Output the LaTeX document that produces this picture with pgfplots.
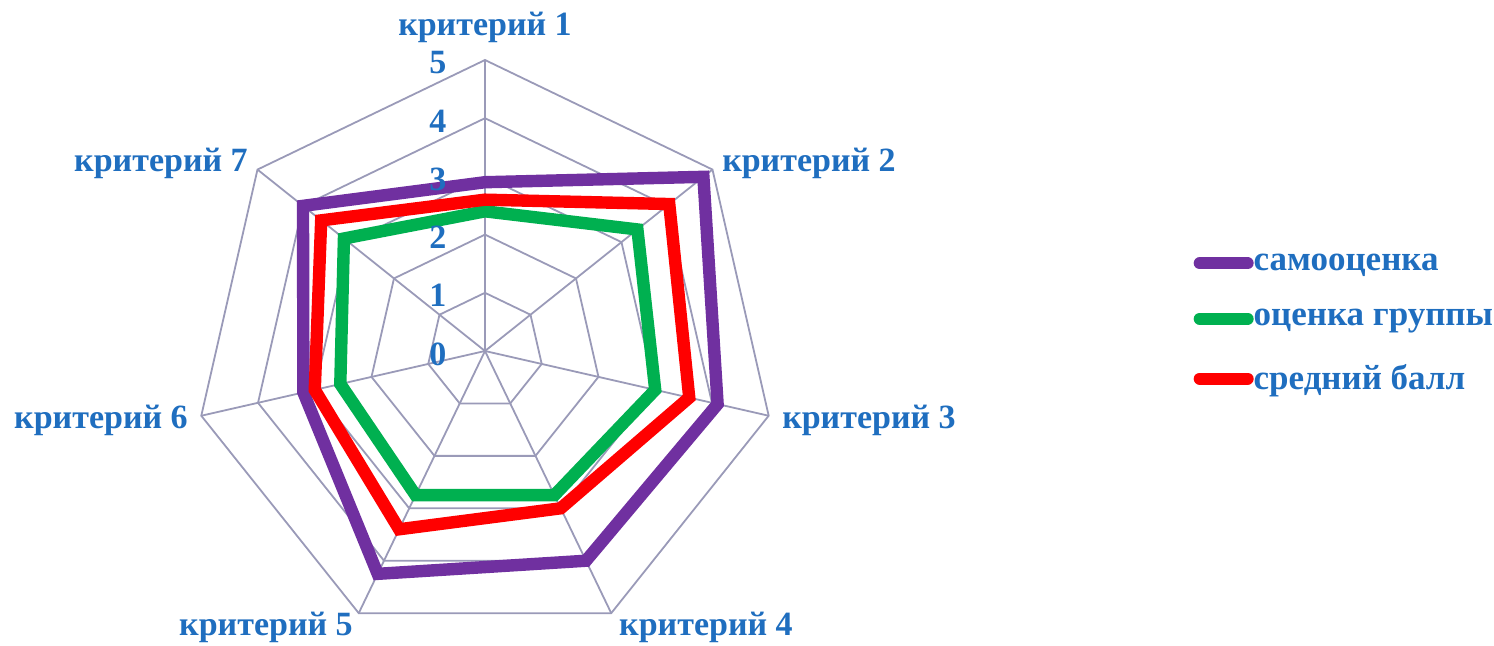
\documentclass[border=0pt]{standalone}
\usepackage{fontspec}
\setmainfont{Liberation Serif}
\usepackage{pgfplots}
\pgfplotsset{compat=1.18}
\definecolor{txtblue}{HTML}{1F6EBF}
\definecolor{gridc}{HTML}{9A9AB8}
\definecolor{cpurple}{HTML}{7030A0}
\definecolor{cgreen}{HTML}{00B050}
\definecolor{cred}{HTML}{FF0000}
\tikzset{lab/.style={font=\bfseries\fontsize{17}{20}\selectfont, text=txtblue, inner sep=0pt}}
\begin{document}
\begin{tikzpicture}
\begin{axis}[
  x=29.1pt, y=29.1pt,
  xmin=-8.333, xmax=17.337, ymin=-5.052, ymax=6.031,
  hide axis, clip=false,
  legend style={at={(axis cs:12.17,0.48)}, anchor=west, draw=none, fill=none,
    font=\bfseries\fontsize{17.5}{20}\selectfont, text=txtblue, row sep=18pt, inner sep=0pt,
    nodes={inner sep=0pt},
    /tikz/every even column/.append style={column sep=0pt}},
  legend cell align=left,
  legend image code/.code={\draw[#1, line width=6pt, line cap=round] (0pt,0pt) -- (24pt,0pt);},
]
% grid rings
\pgfplotsinvokeforeach{1,2,3,4,5}{
  \addplot[gridc, line width=0.9pt, data cs=polar, forget plot, line join=miter]
    coordinates {(90,#1) (38.5714,#1) (-12.8571,#1) (-64.2857,#1) (-115.7143,#1) (-167.1429,#1) (141.4286,#1)} -- cycle;
}
% spokes
\pgfplotsinvokeforeach{90,38.5714,-12.8571,-64.2857,-115.7143,-167.1429,141.4286}{
  \addplot[gridc, line width=0.9pt, data cs=polar, forget plot]
    coordinates {(#1,0) (#1,5)};
}
% data
\addplot[cpurple, line width=6.2pt, line join=miter, data cs=polar]
  coordinates {(90,2.9) (38.5714,4.8) (-12.8571,4.1) (-64.2857,4.0) (-115.7143,4.25) (-167.1429,3.2) (141.4286,4.0)} -- cycle;
\addlegendentry{самооценка}
\addplot[cgreen, line width=6.2pt, line join=miter, data cs=polar]
  coordinates {(90,2.4) (38.5714,3.35) (-12.8571,3.0) (-64.2857,2.75) (-115.7143,2.75) (-167.1429,2.55) (141.4286,3.1)} -- cycle;
\addlegendentry{оценка группы}
\addplot[cred, line width=6.2pt, line join=miter, data cs=polar]
  coordinates {(90,2.6) (38.5714,4.05) (-12.8571,3.6) (-64.2857,3.0) (-115.7143,3.4) (-167.1429,3.0) (141.4286,3.6)} -- cycle;
\addlegendentry{средний балл}
% radial tick labels
\pgfplotsinvokeforeach{0,1,2,3,4,5}{
  \node[lab] at (axis cs:-0.81,#1-0.05) {#1};
}
% category labels
\node[lab] at (axis cs:0,5.567) {критерий 1};
\node[lab] at (axis cs:5.567,3.23) {критерий 2};
\node[lab] at (axis cs:6.598,-1.186) {критерий 3};
\node[lab] at (axis cs:3.797,-4.742) {критерий 4};
\node[lab] at (axis cs:-3.763,-4.742) {критерий 5};
\node[lab] at (axis cs:-6.598,-1.186) {критерий 6};
\node[lab] at (axis cs:-5.567,3.23) {критерий 7};
\end{axis}
\pgfresetboundingbox
\path[use as bounding box] (current axis.south west) rectangle (current axis.north east);
\end{tikzpicture}
\end{document}
